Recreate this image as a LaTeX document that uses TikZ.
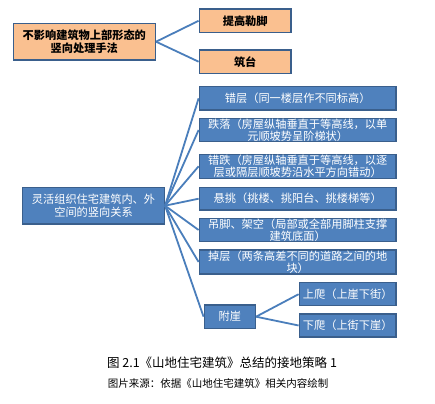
\documentclass[tikz,border=0pt]{standalone}
\usepackage{fontspec}
\newfontfamily\cjk{Noto Sans CJK SC}
\definecolor{orfill}{HTML}{FAC090}
\definecolor{bfill}{HTML}{4F81BD}
\definecolor{bdraw}{HTML}{3A5F8C}
\definecolor{link}{HTML}{4A7EBB}
\begin{document}
\begin{tikzpicture}[x=1pt,y=-1pt,
  base/.style={draw=bdraw,line width=1.5pt,inner sep=0pt,align=center,
    font=\cjk\fontsize{11.2}{12.5}\selectfont},
  obox/.style={base,fill=orfill,text=black,font=\cjk\bfseries\fontsize{11.2}{12.5}\selectfont},
  bbox/.style={base,fill=bfill,text=white},
  conn/.style={draw=link,line width=1.8pt}]
\useasboundingbox (0,0) rectangle (435,403);
% orange group
\node[obox,minimum width=142pt,minimum height=36.7pt] (o) at (84.3,41.7) {不影响建筑物上部形态的\\竖向处理手法};
\node[obox,minimum width=91.7pt,minimum height=23.7pt] (o1) at (245.2,20.8) {提高勒脚};
\node[obox,minimum width=91.7pt,minimum height=23.3pt] (o2) at (245.2,61.7) {筑台};
% blue group
\node[bbox,minimum width=141.6pt,minimum height=36.7pt] (b) at (93.5,205.7) {灵活组织住宅建筑内、外\\空间的竖向关系};
\node[bbox,minimum width=196.7pt,minimum height=23.3pt] (b1) at (297.7,98.3) {错层（同一楼层作不同标高）};
\node[bbox,minimum width=196.7pt,minimum height=23.3pt] (b2) at (297.7,130) {跌落（房屋纵轴垂直于等高线，以单\\元顺坡势呈阶梯状）};
\node[bbox,minimum width=196.7pt,minimum height=24pt] (b3) at (297.7,166.3) {错跌（房屋纵轴垂直于等高线，以逐\\层或隔层顺坡势沿水平方向错动）};
\node[bbox,minimum width=196.7pt,minimum height=22.7pt] (b4) at (297.7,198.7) {悬挑（挑楼、挑阳台、挑楼梯等）};
\node[bbox,minimum width=196.7pt,minimum height=23.3pt] (b5) at (297.7,230) {吊脚、架空（局部或全部用脚柱支撑\\建筑底面）};
\node[bbox,minimum width=196.7pt,minimum height=24pt] (b6) at (297.7,262) {掉层（两条高差不同的道路之间的地\\块）};
\node[bbox,minimum width=51pt,minimum height=23.3pt] (b7) at (229.8,316.7) {附崖};
\node[bbox,minimum width=96.7pt,minimum height=23pt] (c1) at (347.7,294.2) {上爬（上崖下街）};
\node[bbox,minimum width=96.7pt,minimum height=23pt] (c2) at (347.7,325.5) {下爬（上街下崖）};
% connectors
\draw[conn] (o.east) -- (o1.west);
\draw[conn] (o.east) -- (o2.west);
\foreach \n in {b1,b2,b3,b4,b5,b6,b7} \draw[conn] (b.east) -- (\n.west);
\draw[conn] (b7.east) -- (c1.west);
\draw[conn] (b7.east) -- (c2.west);
% caption
\node[font=\cjk\fontsize{12.5}{14}\selectfont,inner sep=0pt] (cap1) at (222,363) {图 2.1《山地住宅建筑》总结的接地策略 1};
\node[font=\cjk\fontsize{10.5}{12}\selectfont,inner sep=0pt] (cap2) at (218,383) {图片来源：依据《山地住宅建筑》相关内容绘制};
\end{tikzpicture}
\end{document}
